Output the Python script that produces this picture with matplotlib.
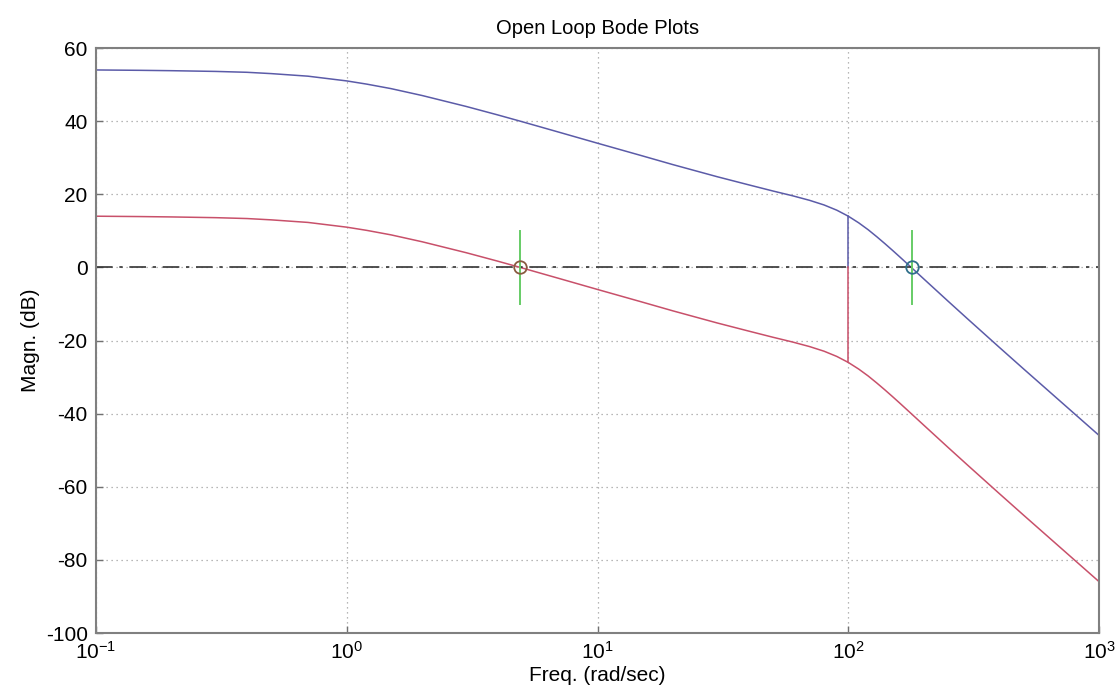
import matplotlib
matplotlib.use("Agg")
import matplotlib.pyplot as plt
from matplotlib.ticker import LogLocator, FixedLocator, NullLocator

plt.rcParams['font.family'] = ['Liberation Sans', 'DejaVu Sans']
plt.rcParams['axes.unicode_minus'] = False

# Frequency grid (rad/sec) and open-loop magnitudes (dB)
freq = [0.1, 0.15, 0.2, 0.3, 0.4, 0.5, 0.7, 1, 1.2, 1.5, 2, 3, 4, 5, 7, 10,
        15, 20, 30, 40, 50, 60, 70, 80, 90, 100, 110, 120, 130, 140, 150,
        160, 180, 200, 250, 300, 400, 500, 700, 1000]
mag_high = [54.0, 53.9, 53.8, 53.6, 53.36, 53.0, 52.3, 51.0, 50.13, 48.9,
            47.0, 44.0, 41.7, 39.85, 37.0, 33.96, 30.55, 28.1, 24.8, 22.59,
            20.9, 19.58, 18.35, 17.08, 15.64, 14.0, 12.19, 10.3, 8.36, 6.48,
            4.67, 2.94, -0.27, -3.16, -9.25, -14.17, -21.86, -27.77, -36.6,
            -45.96]
mag_low = [14.0, 13.9, 13.8, 13.6, 13.36, 13.0, 12.3, 11.0, 10.13, 8.9,
           7.0, 4.0, 1.7, -0.15, -3.0, -6.04, -9.45, -11.9, -15.2, -17.41,
           -19.1, -20.42, -21.65, -22.92, -24.36, -26.0, -27.81, -29.7,
           -31.64, -33.52, -35.33, -37.06, -40.27, -43.16, -49.25, -54.17,
           -61.86, -67.77, -76.6, -85.96]

# Crossover frequencies and the marker bar half-height (dB)
cross_low = 4.9
cross_high = 179.0
bar_half = 10
# Frequency where the two curves are joined
joint_freq = 100
joint_high = 14.0
joint_low = -26.0

blue = '#5b5ba8'
red = '#c8506a'
green = '#66cc66'

fig = plt.figure(figsize=(11.19, 7.0), dpi=100)
ax = fig.add_axes([0.0858, 0.0957, 0.8964, 0.8357])

ax.semilogx(freq, mag_high, color=blue, lw=1.1)
ax.semilogx(freq, mag_low, color=red, lw=1.1)
ax.axhline(0, color='#333333', lw=1.2, ls=(0, (10, 4, 2, 4)))

ax.plot([joint_freq, joint_freq], [joint_high, 0], color=blue, lw=1.1)
ax.plot([joint_freq, joint_freq], [0, joint_low], color=red, lw=1.1)

for fc, ec in [(cross_low, '#8a5a40'), (cross_high, '#2f6f8a')]:
    ax.plot([fc, fc], [-bar_half, bar_half], color=green, lw=1.4)
    ax.plot([fc], [0], marker='o', ms=9, mfc='none', mec=ec, mew=1.3)

ax.set_xlim(0.1, 1000)
ax.set_ylim(-100, 60)
ax.xaxis.set_major_locator(LogLocator(base=10, numticks=10))
ax.xaxis.set_minor_locator(NullLocator())
ax.yaxis.set_major_locator(FixedLocator(list(range(-100, 61, 20))))

ax.grid(True, which='major', color='#a0a0a0', ls=(0, (1, 3)), lw=0.9)
ax.tick_params(direction='in', length=5, width=1, color='#707070',
               labelsize=15, pad=6)
for s in ax.spines.values():
    s.set_color('#808080')
    s.set_linewidth(1.5)

ax.set_title('Open Loop Bode Plots', fontsize=14.5, pad=10)
ax.set_xlabel('Freq. (rad/sec)', fontsize=15, labelpad=2)
ax.set_ylabel('Magn. (dB)', fontsize=15, labelpad=4)

fig.savefig('out.png', dpi=100, facecolor='white')
